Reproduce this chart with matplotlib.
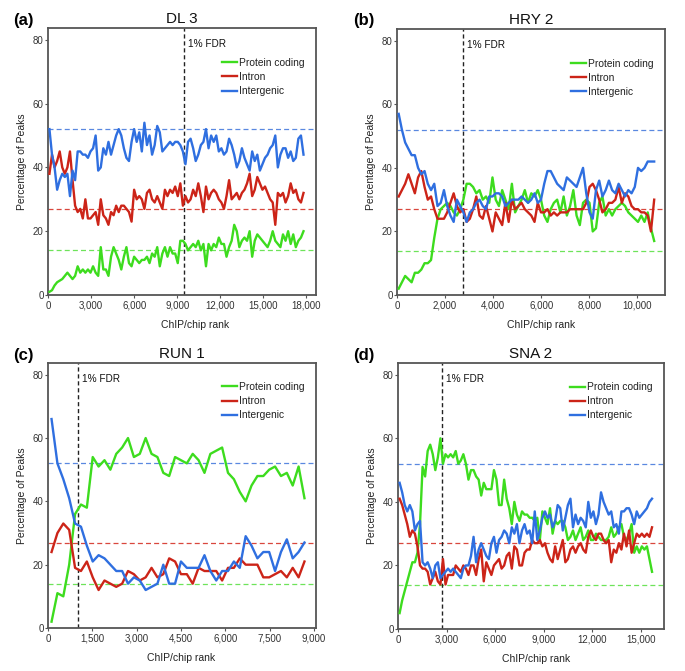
import numpy as np
import matplotlib
matplotlib.use("Agg")
import matplotlib.pyplot as plt
from matplotlib.ticker import FuncFormatter

plt.rcParams['font.family'] = ['Liberation Sans', 'DejaVu Sans']

legend_labels = ["Protein coding", "Intron", "Intergenic"]
ref_levels = {"Protein coding": 14, "Intron": 27, "Intergenic": 52}

# ---------------- (a) DL 3 ----------------
a_title = "DL 3"
a_fdr = 9500
a_rank_start, a_rank_end = 100, 17800
a_coding = [1, 1.5, 3, 4, 4.5, 5, 6, 7, 6, 5,
            6, 9, 7, 8, 7, 8, 7, 9, 7, 6,
            15, 8, 8, 6, 12, 15, 13, 11, 8, 12,
            15, 10, 9, 12, 11, 10, 11, 11, 12, 10,
            13, 12, 15, 9, 13, 15, 12, 15, 13, 13,
            10, 17, 17, 16, 14, 15, 16, 15, 17, 14,
            16, 9, 16, 14, 16, 15, 18, 16, 16, 12,
            15, 17, 22, 20, 15, 17, 18, 17, 20, 12,
            17, 19, 18, 17, 16, 15, 17, 20, 17, 16,
            15, 19, 17, 20, 16, 19, 15, 17, 18, 20]
a_intron = [38, 44, 40, 42, 45, 40, 38, 40, 45, 36,
            28, 26, 27, 24, 30, 24, 24, 25, 26, 22,
            30, 25, 24, 22, 26, 25, 28, 26, 28, 28,
            27, 26, 23, 33, 30, 31, 30, 27, 32, 33,
            30, 29, 31, 29, 27, 33, 31, 33, 32, 34,
            31, 35, 28, 31, 29, 30, 33, 31, 35, 31,
            26, 34, 30, 32, 33, 32, 30, 29, 27, 31,
            36, 30, 31, 32, 30, 32, 33, 35, 38, 31,
            33, 37, 35, 33, 34, 32, 30, 29, 22, 32,
            31, 32, 29, 31, 35, 32, 33, 30, 29, 32]
a_intergenic = [52, 44, 40, 33, 36, 38, 37, 38, 31, 39,
                36, 45, 45, 44, 44, 43, 45, 46, 50, 39,
                40, 46, 44, 48, 44, 47, 50, 52, 50, 46,
                43, 42, 48, 52, 48, 51, 45, 54, 47, 50,
                44, 47, 53, 51, 45, 46, 47, 48, 47, 48,
                48, 47, 45, 41, 48, 49, 46, 42, 44, 47,
                48, 52, 46, 50, 48, 50, 45, 46, 44, 45,
                49, 47, 44, 40, 42, 46, 43, 41, 39, 45,
                42, 44, 39, 41, 43, 44, 46, 47, 50, 40,
                44, 46, 46, 43, 45, 42, 43, 49, 50, 44]
a_xticks = [0, 3000, 6000, 9000, 12000, 15000, 18000]
a_xmax = 18670

# ---------------- (b) HRY 2 ----------------
b_title = "HRY 2"
b_fdr = 2730
b_rank_start, b_rank_end = 70, 10700
b_coding = [2, 4, 6, 5, 4, 7, 7, 8, 10, 10,
            11, 18, 24, 27, 28, 29, 28, 26, 25, 27,
            30, 35, 35, 34, 32, 33, 30, 31, 29, 37,
            30, 28, 33, 30, 27, 35, 26, 28, 30, 33,
            29, 32, 31, 33, 30, 25, 23, 27, 29, 30,
            26, 31, 25, 28, 33, 25, 22, 29, 30, 29,
            20, 21, 29, 31, 25, 27, 25, 27, 28, 29,
            28, 26, 25, 24, 23, 25, 23, 26, 21, 17]
b_intron = [31, 33, 35, 38, 35, 32, 37, 39, 34, 30,
            31, 27, 24, 24, 24, 26, 29, 32, 28, 26,
            27, 23, 24, 27, 31, 25, 24, 28, 24, 20,
            26, 24, 22, 29, 23, 30, 27, 28, 29, 27,
            26, 25, 23, 29, 26, 26, 27, 25, 26, 25,
            26, 26, 26, 27, 27, 27, 27, 27, 29, 34,
            35, 33, 30, 26, 27, 29, 29, 30, 34, 29,
            32, 31, 28, 27, 27, 26, 26, 25, 20, 30]
b_intergenic = [57, 52, 48, 46, 44, 44, 40, 38, 39, 35,
                33, 35, 28, 29, 33, 28, 25, 23, 30, 28,
                26, 23, 26, 27, 29, 30, 28, 27, 31, 31,
                32, 32, 31, 28, 29, 30, 30, 30, 31, 30,
                29, 30, 32, 29, 30, 35, 39, 39, 37, 35,
                34, 33, 37, 36, 35, 34, 37, 40, 32, 26,
                24, 33, 36, 31, 33, 36, 33, 32, 35, 33,
                31, 33, 32, 34, 40, 39, 40, 42, 42, 42]
b_xticks = [0, 2000, 4000, 6000, 8000, 10000]
b_xmax = 11150

# ---------------- (c) RUN 1 ----------------
c_title = "RUN 1"
c_fdr = 1000
c_rank_start, c_rank_end = 120, 8680
c_coding = [2, 11, 10, 20, 36, 39, 38, 54, 51, 53,
            50, 55, 57, 60, 54, 55, 60, 55, 54, 49,
            48, 54, 53, 52, 55, 53, 49, 55, 56, 57,
            49, 47, 43, 40, 45, 48, 48, 50, 51, 48,
            49, 45, 51, 41]
c_intron = [24, 30, 33, 31, 19, 18, 21, 16, 12, 15,
            14, 13, 14, 18, 17, 15, 16, 19, 16, 17,
            22, 21, 17, 17, 14, 19, 18, 18, 18, 15,
            19, 19, 22, 20, 20, 20, 16, 16, 17, 18,
            16, 19, 16, 21]
c_intergenic = [66, 52, 47, 41, 33, 32, 26, 21, 23, 22,
                20, 18, 18, 14, 16, 15, 12, 13, 14, 20,
                14, 14, 21, 19, 19, 19, 23, 18, 15, 18,
                18, 21, 19, 29, 26, 22, 24, 24, 18, 24,
                28, 22, 24, 27]
c_xticks = [0, 1500, 3000, 4500, 6000, 7500, 9000]
c_xmax = 9070

# ---------------- (d) SNA 2 ----------------
d_title = "SNA 2"
d_fdr = 2750
d_rank_start, d_rank_end = 100, 15700
d_coding = [5, 9, 12, 15, 18, 21, 21, 24, 33, 51,
            48, 56, 58, 55, 50, 54, 60, 52, 55, 54,
            55, 54, 56, 52, 53, 55, 52, 47, 50, 50,
            48, 47, 42, 46, 44, 44, 44, 50, 47, 39,
            39, 47, 41, 38, 33, 40, 36, 34, 37, 36,
            36, 35, 35, 34, 35, 28, 37, 35, 33, 38,
            30, 34, 33, 34, 34, 32, 28, 29, 31, 28,
            30, 32, 28, 29, 31, 28, 28, 30, 29, 28,
            28, 28, 29, 32, 29, 30, 32, 33, 29, 28,
            30, 33, 24, 26, 24, 26, 25, 26, 22, 18]
d_intron = [41, 39, 36, 33, 29, 31, 30, 26, 20, 19,
            19, 18, 14, 16, 18, 15, 14, 22, 14, 17,
            17, 17, 20, 19, 18, 20, 19, 17, 20, 20,
            17, 22, 25, 15, 21, 19, 17, 20, 21, 22,
            19, 20, 23, 24, 19, 26, 25, 20, 20, 24,
            25, 25, 28, 27, 27, 28, 26, 27, 24, 22,
            21, 26, 22, 25, 28, 21, 22, 25, 26, 24,
            26, 27, 25, 24, 29, 31, 29, 28, 30, 30,
            28, 27, 28, 21, 25, 24, 27, 25, 30, 26,
            31, 24, 27, 30, 29, 30, 29, 30, 29, 32]
d_intergenic = [46, 43, 39, 37, 39, 37, 31, 33, 34, 21,
                20, 21, 19, 16, 20, 21, 16, 17, 18, 19,
                18, 19, 18, 17, 16, 19, 20, 20, 23, 29,
                21, 25, 27, 25, 23, 22, 27, 29, 24, 28,
                29, 31, 30, 27, 32, 30, 33, 27, 31, 33,
                30, 31, 27, 37, 28, 31, 35, 37, 35, 36,
                32, 34, 39, 38, 31, 35, 39, 41, 32, 36,
                33, 35, 34, 32, 40, 35, 37, 33, 36, 43,
                40, 38, 36, 37, 32, 33, 30, 37, 37, 38,
                38, 36, 33, 37, 35, 36, 37, 38, 40, 41]
d_xticks = [0, 3000, 6000, 9000, 12000, 15000]
d_xmax = 16440

y_ticks = [0, 20, 40, 60, 80]

panels = [
    ("(a)", a_title, a_fdr, a_rank_start, a_rank_end, a_coding, a_intron, a_intergenic, a_xticks, a_xmax),
    ("(b)", b_title, b_fdr, b_rank_start, b_rank_end, b_coding, b_intron, b_intergenic, b_xticks, b_xmax),
    ("(c)", c_title, c_fdr, c_rank_start, c_rank_end, c_coding, c_intron, c_intergenic, c_xticks, c_xmax),
    ("(d)", d_title, d_fdr, d_rank_start, d_rank_end, d_coding, d_intron, d_intergenic, d_xticks, d_xmax),
]

# layout (pixels): axes box left, top, right, bottom; panel-letter position; legend top; xlabel x
boxes = [(48, 28, 316, 295), (397, 29, 665, 295), (48, 363, 316, 628), (398, 363, 664, 629)]
letter_pos = [(13, 20), (353, 21), (13, 355), (353, 355)]
legend_top = [0.888, 0.888, 0.928, 0.928]
xlabel_x = [0.549, 0.537, 0.496, 0.519]

W, H = 685, 671
fig = plt.figure(figsize=(W / 100, H / 100), dpi=100)

colors = {"Protein coding": "#3ddc1e", "Intron": "#cc2418", "Intergenic": "#2f6fe0"}
ref_colors = {"Protein coding": "#6ee35a", "Intron": "#d9473d", "Intergenic": "#5a88e0"}
frame_col = "#555555"

fmt = FuncFormatter(lambda v, p: f"{int(v):,}")

for i, ((lab, title, fdr, r0, r1, cod, intr, inter, xt, xmax), (l, t, r, b)) in enumerate(zip(panels, boxes)):
    ax = fig.add_axes([l / W, 1 - b / H, (r - l) / W, (b - t) / H])
    ranks = np.linspace(r0, r1, len(cod))
    for name in legend_labels:
        ax.axhline(ref_levels[name], color=ref_colors[name], lw=0.9, ls=(0, (4, 2.5)), zorder=1)
    ax.axvline(fdr, color="#222222", lw=1.0, ls=(0, (3, 2)), zorder=2)
    for name, vals in zip(legend_labels, [cod, intr, inter]):
        ax.plot(ranks, vals, color=colors[name], lw=1.7, label=name, zorder=3)
    ax.set_xlim(0, xmax)
    ax.set_ylim(0, 83.7)
    ax.set_xticks(xt)
    ax.xaxis.set_major_formatter(fmt)
    ax.set_yticks(y_ticks)
    ax.tick_params(axis="both", labelsize=7, length=2.3, width=0.8, color=frame_col, labelcolor="#333333", pad=0.8)
    ax.tick_params(axis="x", pad=2)
    for s in ax.spines.values():
        s.set_color(frame_col)
        s.set_linewidth(1.3)
    ax.set_ylabel("Percentage of Peaks", fontsize=7.5, color="#222222", labelpad=4)
    ax.set_xlabel("ChIP/chip rank", fontsize=7.5, color="#222222", labelpad=6.5)
    ax.xaxis.label.set_x(xlabel_x[i])
    ax.set_title(title, fontsize=11, color="#111111", pad=3.5)
    ax.annotate("1% FDR", xy=(fdr, 78.6), xycoords="data", xytext=(4, 0), textcoords="offset pixels",
                fontsize=7.2, color="#111111", va="center", ha="left")
    leg = ax.legend(loc="upper right", bbox_to_anchor=(0.959, legend_top[i]), frameon=False, fontsize=7.4,
                    handlelength=1.45, handletextpad=0.25, labelspacing=0.4, borderaxespad=0.0, borderpad=0.0)
    for txt in leg.get_texts():
        txt.set_color("#222222")
    lx, ly = letter_pos[i]
    fig.text(lx / W, 1 - ly / H, lab, fontsize=12, fontweight="bold", ha="left", va="center")

fig.savefig("out.png", dpi=100)
